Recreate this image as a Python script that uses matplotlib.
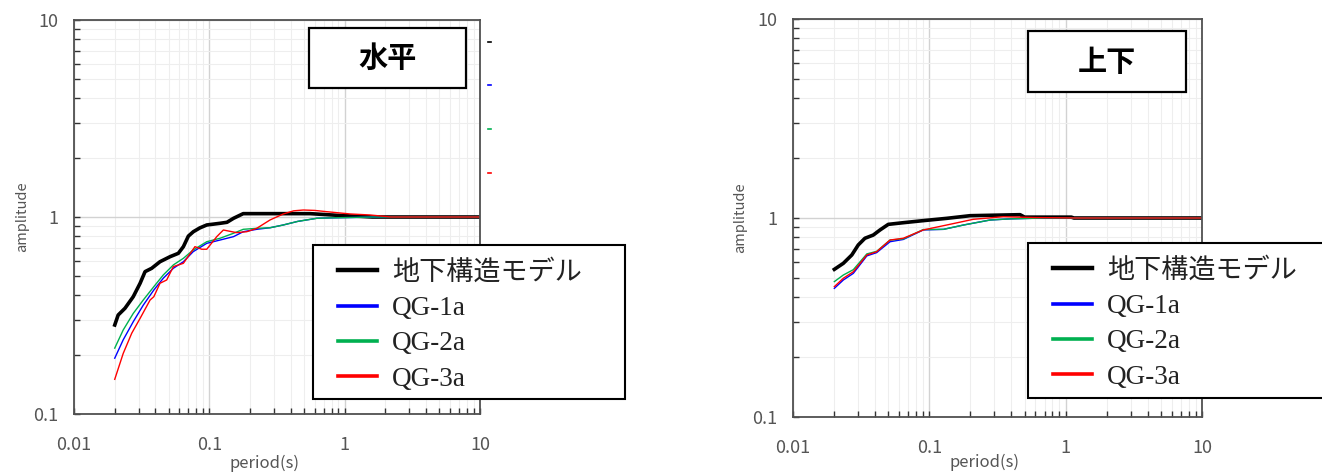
import numpy as np
import matplotlib.pyplot as plt
from matplotlib.patches import Rectangle
from matplotlib.lines import Line2D
from matplotlib.ticker import LogLocator, FuncFormatter, NullFormatter

plt.rcParams["font.family"] = ["Noto Sans CJK JP", "DejaVu Sans"]

# ---- data (period [s] -> amplitude) ----
LABELS = ["地下構造モデル", "QG-1a", "QG-2a", "QG-3a"]
COLORS = ["black", "#0000ff", "#00b050", "#ff0000"]

# 水平 (horizontal)
h_model_p = [0.02, 0.0212, 0.0238, 0.0274, 0.0308, 0.0335, 0.0375, 0.0432, 0.0513, 0.059,
             0.0643, 0.07, 0.0762, 0.085, 0.0957, 0.12, 0.135, 0.151, 0.178, 0.3, 0.45,
             0.555, 0.7, 0.88, 1.2, 1.6, 10]
h_model_a = [0.283, 0.318, 0.344, 0.394, 0.461, 0.528, 0.549, 0.593, 0.629, 0.654,
             0.707, 0.8, 0.842, 0.88, 0.911, 0.929, 0.94, 0.985, 1.04, 1.04, 1.04,
             1.04, 1.03, 1.02, 1.01, 1.0, 1.0]
h_qg_p = [0.02, 0.0231, 0.0274, 0.0325, 0.0389, 0.0457, 0.0542, 0.0643, 0.076, 0.0957,
          0.12, 0.151, 0.178, 0.224, 0.281, 0.352, 0.45, 0.622, 0.8, 1.2, 1.6, 10]
h_qg1_a = [0.192, 0.238, 0.294, 0.357, 0.426, 0.489, 0.549, 0.593, 0.667, 0.735,
           0.764, 0.795, 0.842, 0.866, 0.882, 0.911, 0.95, 0.985, 0.99, 0.995, 1.0, 1.0]
h_qg2_a = [0.216, 0.267, 0.324, 0.379, 0.443, 0.508, 0.571, 0.617, 0.68, 0.749,
           0.78, 0.827, 0.866, 0.876, 0.882, 0.911, 0.95, 0.985, 0.99, 0.995, 1.0, 1.0]
h_qg3_p = [0.02, 0.0231, 0.0267, 0.0308, 0.0365, 0.0389, 0.0432, 0.0484, 0.0542, 0.0643,
           0.0783, 0.0878, 0.0957, 0.1135, 0.127, 0.159, 0.189, 0.224, 0.281, 0.352,
           0.42, 0.495, 0.6, 0.738, 1.1, 1.54, 2.2, 10]
h_qg3_a = [0.150, 0.203, 0.257, 0.306, 0.379, 0.394, 0.461, 0.479, 0.560, 0.582,
           0.707, 0.686, 0.686, 0.795, 0.859, 0.833, 0.842, 0.876, 0.966, 1.036,
           1.075, 1.085, 1.08, 1.064, 1.036, 1.024, 1.0, 1.0]

# 上下 (vertical)
v_model_p = [0.0201, 0.0234, 0.027, 0.0301, 0.0337, 0.0388, 0.0435, 0.05, 0.0644, 0.0903,
             0.134, 0.199, 0.463, 0.5, 1.1, 1.15, 10]
v_model_a = [0.552, 0.592, 0.652, 0.732, 0.791, 0.821, 0.871, 0.929, 0.947, 0.97,
             0.996, 1.027, 1.039, 1.01, 1.01, 1.0, 1.0]
v_qg_p = [0.0201, 0.0234, 0.0277, 0.0348, 0.0411, 0.0515, 0.0644, 0.0903, 0.127, 0.178,
          0.279, 0.39, 0.7, 1.2, 10]
v_qg1_a = [0.443, 0.488, 0.527, 0.645, 0.67, 0.76, 0.78, 0.871, 0.877, 0.922,
           0.977, 0.99, 1.0, 1.0, 1.0]
v_qg2_a = [0.479, 0.517, 0.55, 0.66, 0.68, 0.775, 0.785, 0.875, 0.877, 0.922,
           0.977, 0.99, 1.0, 1.0, 1.0]
v_qg3_p = [0.0201, 0.0234, 0.0277, 0.0348, 0.0411, 0.0515, 0.0644, 0.0903, 0.134, 0.21,
           0.349, 0.6, 1.2, 10]
v_qg3_a = [0.452, 0.498, 0.537, 0.652, 0.677, 0.775, 0.791, 0.871, 0.922, 0.985,
           1.015, 1.005, 1.0, 1.0]

W, H = 1322, 472
fig = plt.figure(figsize=(W / 100, H / 100), dpi=100)


def fx(px):
    return px / W


def fy(py):
    return 1 - py / H


ax_h = fig.add_axes([fx(74), fy(414), fx(480) - fx(74), fy(20) - fy(414)])
ax_v = fig.add_axes([fx(793), fy(417), fx(1202) - fx(793), fy(19) - fy(417)])

fmt = FuncFormatter(lambda v, pos: f"{v:g}")


def style(ax, xlab_pos, ylab_x):
    ax.set_xscale("log")
    ax.set_yscale("log")
    ax.set_xlim(0.01, 10)
    ax.set_ylim(0.1, 10)
    for axis in (ax.xaxis, ax.yaxis):
        axis.set_major_locator(LogLocator(base=10, numticks=10))
        axis.set_minor_locator(LogLocator(base=10, subs=np.arange(2, 10), numticks=10))
        axis.set_major_formatter(fmt)
        axis.set_minor_formatter(NullFormatter())
    ax.grid(True, which="major", color="#d2d2d2", lw=1.0)
    ax.grid(True, which="minor", color="#eeeeee", lw=0.8)
    ax.set_axisbelow(True)
    ax.tick_params(which="both", direction="in", length=4, width=1, color="#333333",
                   labelsize=13, labelcolor="#555555")
    ax.tick_params(axis="y", pad=11)
    ax.tick_params(axis="x", pad=16)
    for s in ax.spines.values():
        s.set_color("#505050")
        s.set_linewidth(1.3)
    ax.set_xlabel("period(s)", fontsize=12, color="#555555")
    ax.set_ylabel("amplitude", fontsize=10.5, color="#555555")
    ax.xaxis.set_label_coords(*xlab_pos)
    ax.yaxis.set_label_coords(ylab_x, 0.5)


style(ax_h, (0.47, -0.104), -0.111)
style(ax_v, (0.469, -0.092), -0.112)

ax_h.plot(h_model_p, h_model_a, color=COLORS[0], lw=2.6)
ax_h.plot(h_qg_p, h_qg1_a, color=COLORS[1], lw=1.0)
ax_h.plot(h_qg_p, h_qg2_a, color=COLORS[2], lw=1.0)
ax_h.plot(h_qg3_p, h_qg3_a, color=COLORS[3], lw=1.0)

ax_v.plot(v_model_p, v_model_a, color=COLORS[0], lw=2.6)
ax_v.plot(v_qg_p, v_qg1_a, color=COLORS[1], lw=1.0)
ax_v.plot(v_qg_p, v_qg2_a, color=COLORS[2], lw=1.0)
ax_v.plot(v_qg3_p, v_qg3_a, color=COLORS[3], lw=1.0)

# legends: white framed box plus frameless figure legend on top
handles = [Line2D([], [], color=c, lw=3.2 if i == 0 else 2.6) for i, c in enumerate(COLORS)]
for (x0, y0, x1, y1) in [(313, 245, 625, 399), (1028, 243, 1340, 398)]:
    fig.add_artist(Rectangle((fx(x0), fy(y1)), fx(x1) - fx(x0), fy(y0) - fy(y1),
                             transform=fig.transFigure, facecolor="white",
                             edgecolor="black", lw=1.5))
    leg = fig.legend(handles, LABELS, loc="upper left",
                     bbox_to_anchor=(fx(x0 + 25), fy(y0 + 15)),
                     frameon=False, borderpad=0, borderaxespad=0,
                     handlelength=1.45, handletextpad=0.55, labelspacing=0.38,
                     prop={"family": ["Liberation Serif", "Noto Sans CJK JP"], "size": 19.5})
    for t in leg.get_texts():
        t.set_color("#222222")

# title boxes
for (x0, y0, x1, y1), title in [((309, 28, 466, 88), "水平"), ((1028, 31, 1186, 92), "上下")]:
    fig.add_artist(Rectangle((fx(x0), fy(y1)), fx(x1) - fx(x0), fy(y0) - fy(y1),
                             transform=fig.transFigure, facecolor="white",
                             edgecolor="black", lw=1.6))
    fig.text(fx((x0 + x1) / 2), fy((y0 + y1) / 2), title, ha="center", va="center",
             fontsize=21, fontweight="bold", color="black")

# leftover tiny legend marks beside the left chart
for yy, c in zip([42, 85, 129, 173], COLORS):
    fig.add_artist(Line2D([fx(488), fx(491)], [fy(yy), fy(yy)], color=c, lw=1.2,
                          transform=fig.transFigure))

fig.savefig("out.png", dpi=100)
